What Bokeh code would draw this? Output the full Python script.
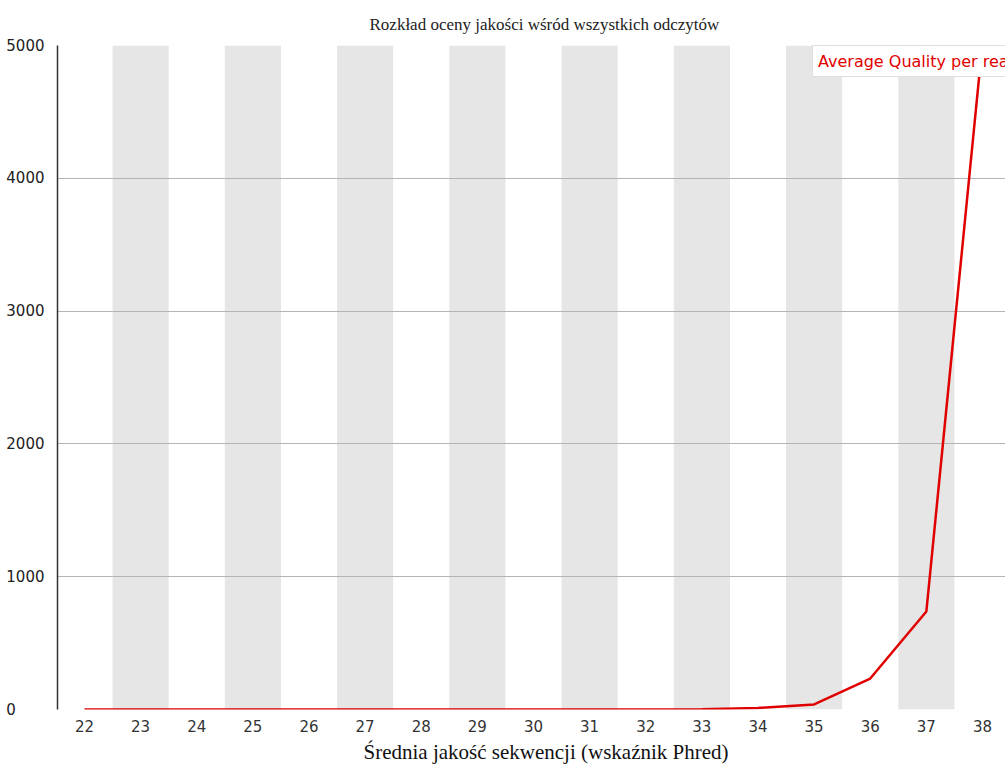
from bokeh.plotting import figure
from bokeh.models import Range1d, FixedTicker, Legend, LegendItem, Title
from bokeh.embed import file_html
from bokeh.resources import INLINE

# ---- data ----
quality = [22, 23, 24, 25, 26, 27, 28, 29, 30, 31, 32, 33, 34, 35, 36, 37, 38]
counts = [0, 0, 0, 0, 0, 0, 0, 0, 0, 0, 0, 1, 12, 38, 233, 738, 5020]
y_ticks = [0, 1000, 2000, 3000, 4000, 5000]
y_tick_labels = ["0", "1000", "2000", "3000", "4000", "5000"]
band_centers = [q for q in quality if q % 2 == 1]

title_text = "Rozkład oceny jakości wśród wszystkich odczytów"
xlabel_text = "Średnia jakość sekwencji (wskaźnik Phred)"
legend_text = "Average Quality per read"

p = figure(width=1005, height=767, output_backend="svg", toolbar_location=None,
           x_range=Range1d(21.519, 38.41), y_range=Range1d(0, 5000),
           min_border_left=57, min_border_right=0, min_border_top=45, min_border_bottom=58)
p.outline_line_color = None
p.background_fill_color = "white"
p.border_fill_color = "white"

# alternating bands
p.quad(left=[c - 0.5 for c in band_centers], right=[c + 0.5 for c in band_centers],
       bottom=0, top=5000, fill_color="#e6e6e6", line_color=None, level="underlay")

r = p.line(quality, counts, line_color="#e00000", line_width=2.5)

# x axis
p.xaxis.ticker = FixedTicker(ticks=quality)
p.xaxis.axis_line_color = None
p.xaxis.major_tick_line_color = None
p.xaxis.minor_tick_line_color = None
p.xaxis.major_label_text_font = "DejaVu Sans"
p.xaxis.major_label_text_font_size = "15px"
p.xaxis.major_label_text_color = "#333333"
p.xaxis.major_label_standoff = 4

# y axis (labels left-aligned via padding with figure spaces)
p.yaxis.ticker = FixedTicker(ticks=y_ticks)
maxlen = max(len(s) for s in y_tick_labels)
p.yaxis.major_label_overrides = {t: s + "\u2007" * (maxlen - len(s))
                                 for t, s in zip(y_ticks, y_tick_labels)}
p.yaxis.axis_line_color = "#333333"
p.yaxis.axis_line_width = 1.5
p.yaxis.major_tick_line_color = None
p.yaxis.minor_tick_line_color = None
p.yaxis.major_label_text_font = "DejaVu Sans"
p.yaxis.major_label_text_font_size = "15px"
p.yaxis.major_label_text_color = "#222222"
p.yaxis.major_label_standoff = 7

p.xgrid.grid_line_color = None
p.ygrid.ticker = FixedTicker(ticks=y_ticks)
p.ygrid.grid_line_color = "#b4b4b4"
p.ygrid.grid_line_width = 1

# title
p.title.text = title_text
p.title.align = "left"
p.title.offset = 312
p.title.text_font = "Liberation Serif"
p.title.text_font_size = "17px"
p.title.text_font_style = "normal"
p.title.text_color = "#222222"
p.title.standoff = 24

# x-axis label as a title below the axis
xl = Title(text=xlabel_text, align="left", offset=306, text_font="Liberation Serif",
           text_font_size="21px", text_font_style="normal", text_color="#111111", standoff=7)
p.add_layout(xl, "below")

legend = Legend(items=[LegendItem(label=legend_text, renderers=[r])],
                location=(755, 632), glyph_width=0, label_standoff=0, padding=5, margin=0,
                label_height=20,
                label_text_color="#e00000", label_text_font="DejaVu Sans",
                label_text_font_size="16px", border_line_color="#c0c0c0",
                background_fill_color="white", background_fill_alpha=1.0)
p.add_layout(legend)

open("out.html", "w").write(file_html(p, INLINE))
